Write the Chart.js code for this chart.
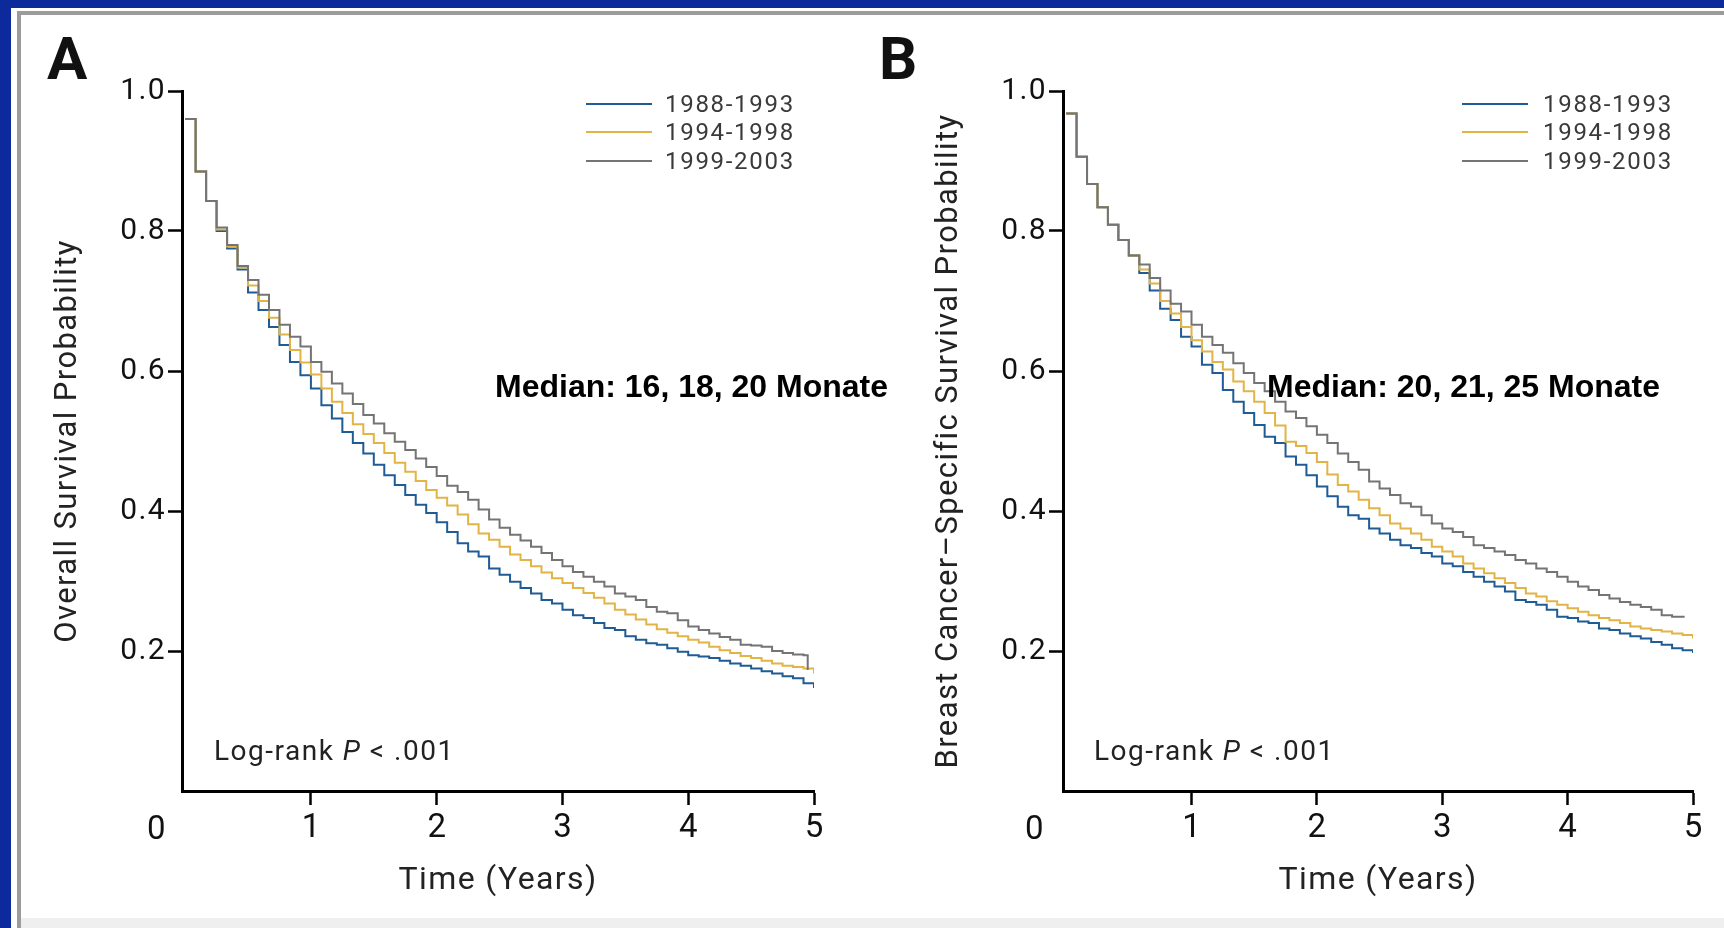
<!DOCTYPE html>
<html>
<head>
<meta charset="utf-8">
<script src="https://cdn.jsdelivr.net/npm/chart.js@4.4.1/dist/chart.umd.min.js"></script>
<style>
  html, body { margin: 0; padding: 0; background: #fff; width: 1724px; height: 928px; overflow: hidden; }
  #page { position: relative; width: 1724px; height: 928px; background: #fff; }
  .bar { position: absolute; }
  .panel { position: absolute; top: 0; }
  .txt { position: absolute; white-space: nowrap; line-height: 1; transform: translateY(-50%); z-index: 2; }
  .narrow { font-family: Roboto, 'Liberation Sans', sans-serif; }
  .key { position: absolute; height: 2px; z-index: 2; }
</style>
</head>
<body>
<div id="page">
  <div class="bar" style="left:0;top:0;width:1724px;height:8px;background:#0c2a9b"></div>
  <div class="bar" style="left:0;top:0;width:11px;height:928px;background:#0c2a9b"></div>
  <div class="bar" style="left:17px;top:11px;width:1707px;height:4px;background:#9c9c9c"></div>
  <div class="bar" style="left:17px;top:11px;width:4px;height:917px;background:#9c9c9c"></div>
  <div class="bar" style="left:21px;top:918px;width:1703px;height:10px;background:#efefef"></div>

  <canvas class="panel" id="chartA" width="862" height="928" style="left:0"></canvas>
  <canvas class="panel" id="chartB" width="862" height="928" style="left:862px"></canvas>

  <div class="txt narrow" style="left:47px;top:59px;font-size:60px;font-weight:bold;color:#111">A</div>
  <div class="txt narrow" style="left:879px;top:59px;font-size:60px;font-weight:bold;color:#111">B</div>

  <div class="txt narrow" style="left:147px;top:827px;font-size:33px;color:#111">0</div>
  <div class="txt narrow" style="left:1025px;top:827px;font-size:33px;color:#111">0</div>

  <div class="txt" style="left:495px;top:386px;font-family:'Liberation Sans',Arial,sans-serif;font-size:32px;font-weight:bold;color:#000">Median: 16, 18, 20 Monate</div>
  <div class="txt" style="left:1267px;top:386px;font-family:'Liberation Sans',Arial,sans-serif;font-size:32px;font-weight:bold;color:#000">Median: 20, 21, 25 Monate</div>

  <div class="txt narrow" style="left:214px;top:751px;font-size:28px;letter-spacing:1.5px;color:#222">Log-rank <i>P</i> &lt; .001</div>
  <div class="txt narrow" style="left:1094px;top:751px;font-size:28px;letter-spacing:1.5px;color:#222">Log-rank <i>P</i> &lt; .001</div>

  <div id="legendA"></div>
  <div id="legendB"></div>
</div>

<script>
// months since diagnosis (monthly Kaplan-Meier steps)
const months = [0, 1, 2, 3, 4, 5, 6, 7, 8, 9,
  10, 11, 12, 13, 14, 15, 16, 17, 18, 19,
  20, 21, 22, 23, 24, 25, 26, 27, 28, 29,
  30, 31, 32, 33, 34, 35, 36, 37, 38, 39,
  40, 41, 42, 43, 44, 45, 46, 47, 48, 49,
  50, 51, 52, 53, 54, 55, 56, 57, 58, 59, 60];

const seriesNames = ['1988-1993', '1994-1998', '1999-2003'];
const seriesColors = ['#1f5b94', '#e2b445', '#747474'];
const xTickValues = [1, 2, 3, 4, 5];
const yTickValues = [0.2, 0.4, 0.6, 0.8, 1.0];

// A: overall survival
const overall8893 = [0.960, 0.885, 0.843, 0.800, 0.775, 0.745, 0.712, 0.687, 0.663, 0.637,
  0.613, 0.594, 0.575, 0.551, 0.532, 0.513, 0.497, 0.482, 0.466, 0.451,
  0.437, 0.423, 0.409, 0.397, 0.384, 0.370, 0.354, 0.342, 0.335, 0.318,
  0.309, 0.299, 0.290, 0.282, 0.273, 0.268, 0.259, 0.251, 0.247, 0.240,
  0.233, 0.230, 0.221, 0.216, 0.211, 0.209, 0.204, 0.199, 0.194, 0.192,
  0.190, 0.186, 0.182, 0.179, 0.175, 0.171, 0.168, 0.164, 0.161, 0.154, 0.147];
const overall9498 = [0.960, 0.885, 0.843, 0.802, 0.778, 0.748, 0.722, 0.700, 0.676, 0.652,
  0.630, 0.612, 0.595, 0.575, 0.556, 0.540, 0.524, 0.510, 0.497, 0.483,
  0.469, 0.456, 0.443, 0.430, 0.419, 0.408, 0.395, 0.381, 0.368, 0.359,
  0.349, 0.338, 0.330, 0.321, 0.312, 0.304, 0.297, 0.290, 0.283, 0.276,
  0.268, 0.259, 0.252, 0.245, 0.238, 0.231, 0.226, 0.221, 0.216, 0.212,
  0.206, 0.201, 0.197, 0.193, 0.190, 0.186, 0.182, 0.179, 0.177, 0.175, 0.168];
const overall9903 = [0.960, 0.885, 0.843, 0.805, 0.780, 0.750, 0.730, 0.709, 0.687, 0.666,
  0.649, 0.635, 0.613, 0.599, 0.582, 0.568, 0.553, 0.537, 0.525, 0.511,
  0.499, 0.487, 0.475, 0.463, 0.450, 0.436, 0.427, 0.416, 0.402, 0.388,
  0.376, 0.366, 0.358, 0.349, 0.340, 0.330, 0.321, 0.313, 0.306, 0.299,
  0.292, 0.282, 0.278, 0.273, 0.263, 0.256, 0.254, 0.244, 0.235, 0.230,
  0.225, 0.220, 0.216, 0.209, 0.208, 0.206, 0.200, 0.197, 0.195, 0.194, 0.173];
const overallLastMonth = [60, 60, 59.4];

// B: breast cancer-specific survival
const specific8893 = [0.968, 0.906, 0.867, 0.834, 0.809, 0.787, 0.765, 0.740, 0.715, 0.689,
  0.673, 0.649, 0.635, 0.609, 0.597, 0.573, 0.556, 0.540, 0.523, 0.506,
  0.497, 0.478, 0.466, 0.451, 0.435, 0.421, 0.406, 0.394, 0.389, 0.375,
  0.368, 0.359, 0.351, 0.347, 0.340, 0.335, 0.325, 0.321, 0.313, 0.306,
  0.299, 0.292, 0.285, 0.273, 0.270, 0.266, 0.259, 0.249, 0.247, 0.242,
  0.240, 0.232, 0.230, 0.225, 0.221, 0.218, 0.213, 0.209, 0.204, 0.201, 0.197];
const specific9498 = [0.968, 0.906, 0.867, 0.834, 0.809, 0.787, 0.765, 0.745, 0.725, 0.700,
  0.682, 0.663, 0.644, 0.628, 0.613, 0.602, 0.585, 0.571, 0.556, 0.540,
  0.522, 0.499, 0.493, 0.483, 0.470, 0.452, 0.437, 0.428, 0.416, 0.404,
  0.394, 0.382, 0.375, 0.368, 0.359, 0.349, 0.342, 0.335, 0.325, 0.318,
  0.311, 0.304, 0.297, 0.290, 0.282, 0.278, 0.271, 0.266, 0.261, 0.256,
  0.251, 0.247, 0.244, 0.240, 0.235, 0.232, 0.230, 0.228, 0.225, 0.223, 0.218];
const specific9903 = [0.968, 0.906, 0.867, 0.834, 0.809, 0.787, 0.765, 0.752, 0.733, 0.715,
  0.696, 0.685, 0.666, 0.649, 0.637, 0.626, 0.611, 0.597, 0.583, 0.571,
  0.556, 0.542, 0.533, 0.521, 0.509, 0.497, 0.482, 0.470, 0.459, 0.442,
  0.432, 0.423, 0.411, 0.406, 0.394, 0.382, 0.375, 0.370, 0.363, 0.351,
  0.347, 0.342, 0.337, 0.330, 0.325, 0.318, 0.313, 0.306, 0.299, 0.292,
  0.287, 0.280, 0.275, 0.270, 0.266, 0.263, 0.259, 0.251, 0.249, 0.249, 0.249];
const specificLastMonth = [60, 60, 59.2];

const narrow = "Roboto, 'Liberation Sans', sans-serif";

function toPoints(values, lastMonth) {
  return values.map((v, i) => ({
    x: (i === values.length - 1 ? lastMonth : months[i]) / 12,
    y: v
  }));
}

// some tracking on the y side, none on the x side (x labels sit on layer z=1)
const spacingPlugin = {
  id: 'spacing',
  beforeDraw(chart) { chart.ctx.letterSpacing = '1.4px'; },
  afterDatasetsDraw(chart) { chart.ctx.letterSpacing = '0px'; },
  afterDraw(chart) { chart.ctx.letterSpacing = '0px'; }
};

function makeChart(id, series, lastMonths, yTitle, yWidth, rightPad, yTitlePad) {
  const datasets = series.map((vals, k) => ({
    label: seriesNames[k],
    data: toPoints(vals, lastMonths[k]),
    borderColor: seriesColors[k],
    borderWidth: 2,
    stepped: true,
    pointRadius: 0,
    fill: false,
    order: 2 - k
  }));

  return new Chart(document.getElementById(id), {
    type: 'line',
    data: { datasets: datasets },
    options: {
      responsive: false,
      animation: false,
      layout: { padding: { top: 91, right: rightPad, bottom: 0, left: 0 } },
      plugins: { legend: { display: false }, tooltip: { enabled: false } },
      scales: {
        x: {
          type: 'linear',
          min: -0.025,
          max: 5,
          afterBuildTicks: s => { s.ticks = xTickValues.map(v => ({ value: v })); },
          afterFit: s => { s.height = 137; },
          grid: { drawOnChartArea: false, tickLength: 14, tickWidth: 2.5, tickColor: '#000' },
          border: { color: '#000', width: 3 },
          ticks: { z: 1, padding: 4, color: '#111', maxRotation: 0, autoSkip: false,
                   font: { family: narrow, size: 33 } },
          title: { display: true, text: 'Time (Years)', color: '#222',
                   font: { family: narrow, size: 32 }, padding: { top: 0, bottom: 28 } }
        },
        y: {
          type: 'linear',
          min: 0,
          max: 1,
          afterBuildTicks: s => { s.ticks = yTickValues.map(v => ({ value: v })); },
          afterFit: s => { s.width = yWidth; },
          grid: { drawOnChartArea: false, tickLength: 14, tickWidth: 2.5, tickColor: '#000' },
          border: { color: '#000', width: 3 },
          ticks: { padding: 2, color: '#111', font: { family: narrow, size: 30 },
                   callback: v => Number(v).toFixed(1) },
          title: { display: true, text: yTitle, color: '#222',
                   font: { family: narrow, size: 31 }, padding: { top: yTitlePad, bottom: 0 } }
        }
      }
    },
    plugins: [spacingPlugin]
  });
}

function makeLegend(id, lineLeft, textLeft) {
  const rows = [103.5, 132, 160.5];
  let html = '';
  seriesNames.forEach((name, k) => {
    html += '<div class="key" style="left:' + lineLeft + 'px;top:' + (rows[k] - 1) + 'px;width:66px;background:' + seriesColors[k] + '"></div>';
    html += '<div class="txt narrow" style="left:' + textLeft + 'px;top:' + rows[k] + 'px;font-size:24px;letter-spacing:1.7px;color:#3a3a3a">' + name + '</div>';
  });
  document.getElementById(id).innerHTML = html;
}

makeChart('chartA', [overall8893, overall9498, overall9903], overallLastMonth,
  'Overall Survival Probability', 182, 48, 50);
makeChart('chartB', [specific8893, specific9498, specific9903], specificLastMonth,
  'Breast Cancer\u2013Specific Survival Probability', 201, 31, 69);

makeLegend('legendA', 586, 665);
makeLegend('legendB', 1462, 1543);
</script>
</body>
</html>
